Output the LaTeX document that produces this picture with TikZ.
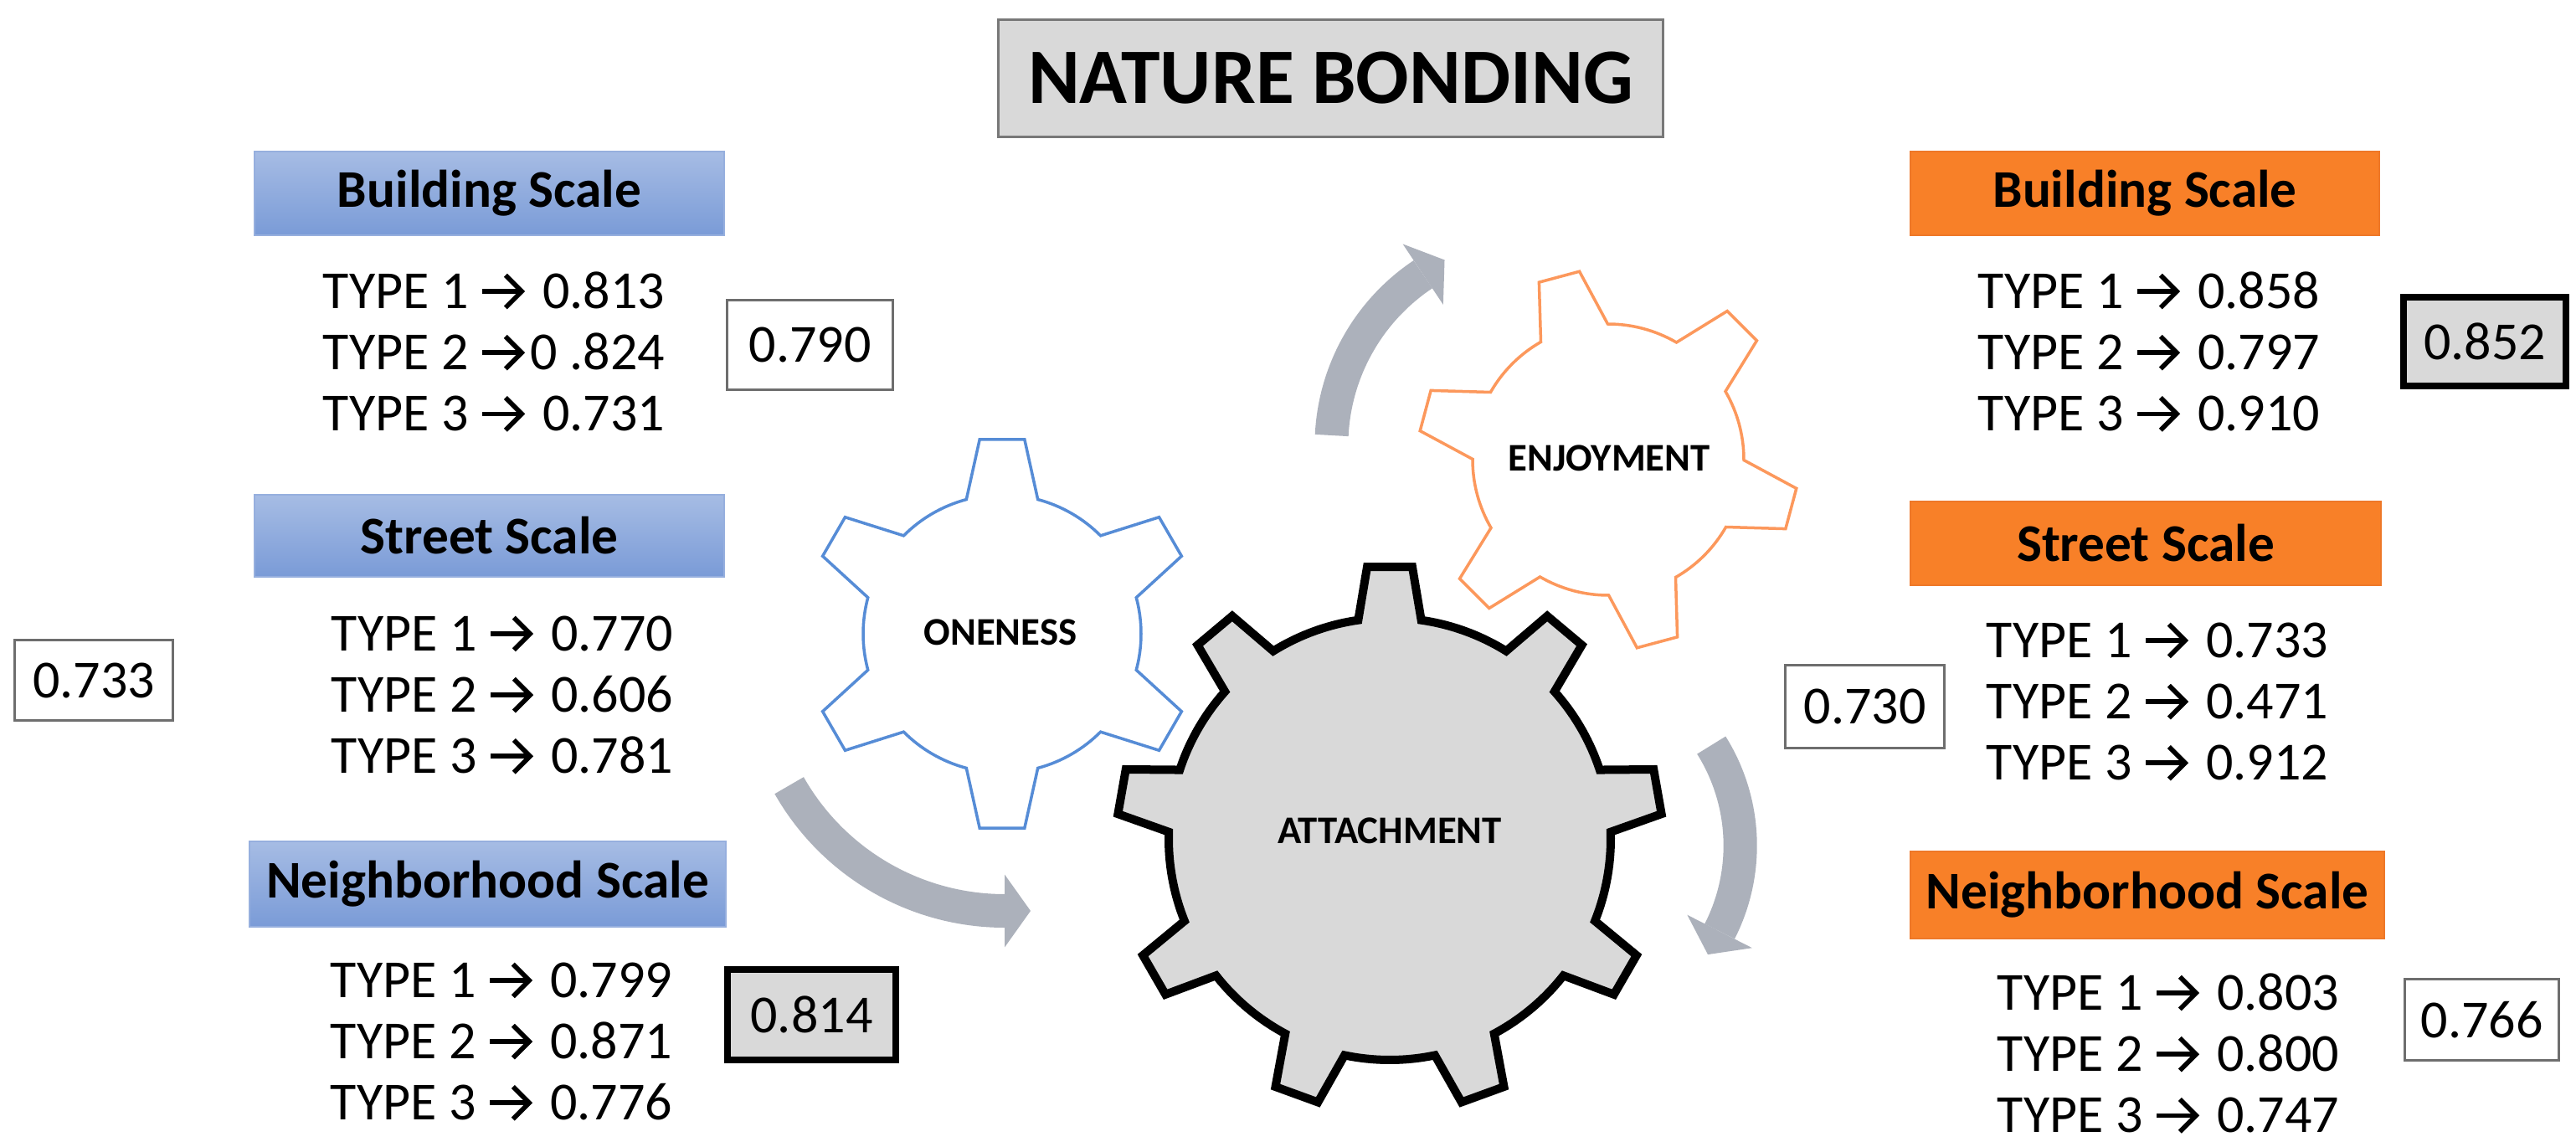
\documentclass[tikz,border=0pt]{standalone}
\usepackage{fontspec}
\setmainfont{Carlito}
\usetikzlibrary{calc}

\definecolor{gearblue}{RGB}{86,140,214}
\definecolor{gearorange}{RGB}{252,152,92}
\definecolor{arrowgray}{RGB}{172,177,187}
\definecolor{headerorange}{RGB}{248,128,40}
\definecolor{orangeedge}{RGB}{238,120,40}
\definecolor{bluetop}{RGB}{166,188,228}
\definecolor{bluebottom}{RGB}{122,155,215}
\definecolor{blueedge}{RGB}{150,175,222}
\definecolor{boxgray}{RGB}{217,217,217}
\definecolor{valedge}{RGB}{110,110,110}
\definecolor{titleedge}{RGB}{120,120,120}

\newcommand{\typefont}{\fontsize{18.2}{20.8}\selectfont}
\newcommand{\hdrfont}{\fontsize{18}{20}\selectfont\bfseries}
\newcommand{\gearfont}{\fontsize{13.3}{15}\selectfont\bfseries}
% arrow glyph drawn like the reference's open-headed bold arrow
\newcommand{\tarrow}{\mbox{\pgfinterruptpicture\tikz[baseline=0pt, x=1pt, y=1pt]{\useasboundingbox (-0.6,0) rectangle (16.4,11.6);
  \draw[black, line width=1.6pt, line cap=butt] (0,5.8) -- (12.8,5.8);
  \draw[black, line width=1.6pt, line join=miter, line cap=butt] (7.9,11.3) -- (13.4,5.8) -- (7.9,0.3);}\endpgfinterruptpicture}}

\newcommand{\mygear}[9]{%
  \pgfmathsetmacro{\gstep}{360/#4}%
  \pgfmathtruncatemacro{\glast}{#4-1}%
  \draw[#1, shift={(#2,#3)}] ({#5-#7}:#6)
    \foreach \k in {0,...,\glast}{
      -- ({#5+\k*\gstep-#9}:#8) -- ({#5+\k*\gstep+#9}:#8)
      -- ({#5+\k*\gstep+#7}:#6)
      arc[start angle={#5+\k*\gstep+#7}, end angle={#5+(\k+1)*\gstep-#7}, radius=#6]
    } -- cycle;%
}

\begin{document}
\begin{tikzpicture}[x=0.01cm, y=-0.01cm,
  hdrbluebox/.style={draw=blueedge, line width=0.15mm, top color=bluetop, bottom color=bluebottom, font=\hdrfont, inner sep=0pt},
  hdrorangebox/.style={draw=orangeedge, line width=0.15mm, fill=headerorange, font=\hdrfont, inner sep=0pt},
  typetext/.style={align=center, font=\typefont, inner sep=0pt},
  valbox/.style={draw=valedge, line width=0.3mm, fill=white, font=\typefont, inner sep=0pt},
  valboxhi/.style={draw=black, line width=0.8mm, fill=boxgray, font=\typefont, inner sep=0pt},
  titlebox/.style={draw=titleedge, line width=0.3mm, fill=boxgray, font=\fontsize{26.7}{30}\selectfont\bfseries, inner sep=0pt},
  gearlabel/.style={font=\gearfont, inner sep=0pt},
  bigarrow/.style={draw=arrowgray, line width=4mm},
  arrowhead/.style={fill=arrowgray},
  lightgear/.style={line width=0.35mm, fill=white, line join=miter},
  maingear/.style={draw=black, line width=1mm, fill=boxgray, line join=miter}
]
\useasboundingbox (0,0) rectangle (3077,1370);

% title
\node[titlebox, minimum width=7.93cm, minimum height=1.39cm] (title) at (1589.5,93.5) {NATURE BONDING};

% gears
\mygear{lightgear, draw=gearblue}{1197}{757}{6}{30}{166}{14.9}{233.6}{6.6}
\mygear{lightgear, draw=gearorange}{1921}{549}{6}{15}{162}{14.8}{227.4}{6.3}
\mygear{maingear}{1660}{1002}{9}{-10}{264}{8.2}{326}{4.75}
\node[gearlabel] (oneness) at (1195,755) {ONENESS};
\node[gearlabel] (enjoyment) at (1922,547) {ENJOYMENT};
\node[gearlabel] (attachment) at (1660,992) {ATTACHMENT};

% curved arrows
\coordinate (uac) at (1836,532);
\draw[bigarrow] (uac) ++(182.8:245.6) coordinate (uas) arc[start angle=182.8, end angle=236.3, radius=245.6] coordinate (uae);
\fill[arrowhead, shift={(uae)}, rotate=33.7] (0,43.5) -- (31,0) -- (0,-43.5) -- cycle;

\coordinate (lac) at (1200,792);
\draw[bigarrow] (lac) ++(150.4:296) coordinate (las) arc[start angle=150.4, end angle=90, radius=296] coordinate (lae);
\fill[arrowhead, shift={(lae)}] (0,43.5) -- (31,0) -- (0,-43.5) -- cycle;

\coordinate (rac) at (1853,1010);
\draw[bigarrow] (rac) ++(-32.1:225.7) coordinate (ras) arc[start angle=-32.1, end angle=27, radius=225.7] coordinate (rae);
\fill[arrowhead, shift={(rae)}, rotate=-117] (0,43.5) -- (31,0) -- (0,-43.5) -- cycle;

% left column
\node[hdrbluebox, minimum width=5.61cm, minimum height=1.00cm] (lbh) at (584.5,231) {Building Scale};
\node[typetext] (lbt) at (590,420) {TYPE 1 \tarrow\ 0.813\\TYPE 2 \tarrow0 .824\\TYPE 3 \tarrow\ 0.731};
\node[valbox, minimum width=1.97cm, minimum height=1.06cm] (lbv) at (967.5,412) {0.790};

\node[hdrbluebox, minimum width=5.61cm, minimum height=0.98cm] (lsh) at (584.5,640) {Street Scale};
\node[typetext] (lst) at (600,830) {TYPE 1 \tarrow\ 0.770\\TYPE 2 \tarrow\ 0.606\\TYPE 3 \tarrow\ 0.781};
\node[valbox, minimum width=1.88cm, minimum height=0.95cm] (lsv) at (112,812.5) {0.733};

\node[hdrbluebox, minimum width=5.69cm, minimum height=1.02cm] (lnh) at (582.5,1056) {Neighborhood Scale};
\node[typetext] (lnt) at (599,1244) {TYPE 1 \tarrow\ 0.799\\TYPE 2 \tarrow\ 0.871\\TYPE 3 \tarrow\ 0.776};
\node[valboxhi, minimum width=2.01cm, minimum height=1.08cm] (lnv) at (969.5,1212) {0.814};

% right column
\node[hdrorangebox, minimum width=5.60cm, minimum height=1.00cm] (rbh) at (2562,231) {Building Scale};
\node[typetext] (rbt) at (2567,420) {TYPE 1 \tarrow\ 0.858\\TYPE 2 \tarrow\ 0.797\\TYPE 3 \tarrow\ 0.910};
\node[valboxhi, minimum width=1.94cm, minimum height=1.06cm] (rbv) at (2968,408) {0.852};

\node[hdrorangebox, minimum width=5.62cm, minimum height=1.00cm] (rsh) at (2563,649) {Street Scale};
\node[typetext] (rst) at (2577,838) {TYPE 1 \tarrow\ 0.733\\TYPE 2 \tarrow\ 0.471\\TYPE 3 \tarrow\ 0.912};
\node[valbox, minimum width=1.89cm, minimum height=0.98cm] (rsv) at (2227.5,844) {0.730};

\node[hdrorangebox, minimum width=5.66cm, minimum height=1.04cm] (rnh) at (2565,1069) {Neighborhood Scale};
\node[typetext] (rnt) at (2590,1258) {TYPE 1 \tarrow\ 0.803\\TYPE 2 \tarrow\ 0.800\\TYPE 3 \tarrow\ 0.747};
\node[valbox, minimum width=1.83cm, minimum height=0.96cm] (rnv) at (2964.5,1218) {0.766};
\end{tikzpicture}
\end{document}
